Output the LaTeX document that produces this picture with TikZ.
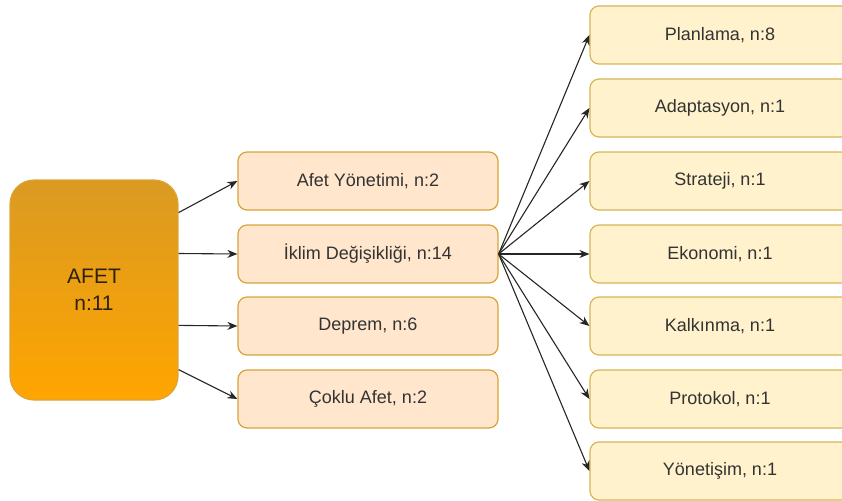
\documentclass[tikz,border=0pt]{standalone}
\usepackage{fontspec}
\setmainfont{Liberation Sans}
\usetikzlibrary{arrows.meta,calc}
\definecolor{midfill}{HTML}{FFE6CC}
\definecolor{midline}{HTML}{D6A43A}
\definecolor{rfill}{HTML}{FFF2CC}
\definecolor{rline}{HTML}{D6B656}
\definecolor{afettop}{HTML}{DA9A22}
\definecolor{afetbot}{HTML}{FFA500}
\definecolor{afetline}{HTML}{D9A63C}
\definecolor{txt}{HTML}{333333}
\tikzset{
  base/.style={rounded corners=9pt, line width=1.2pt, minimum width=260pt, minimum height=58pt, inner sep=0pt, text=txt, font=\fontsize{18}{21.6}\selectfont},
  midbox/.style={base, fill=midfill, draw=midline},
  rbox/.style={base, fill=rfill, draw=rline},
  afetbox/.style={rounded corners=24pt, line width=1.2pt, draw=afetline, top color=afettop, bottom color=afetbot, minimum width=168pt, minimum height=220pt, inner sep=0pt, text=black!75!brown, align=center, font=\fontsize{21}{25}\selectfont},
  conn/.style={line width=1.1pt, draw=black!85, -{Stealth[length=10pt,width=8pt]}}
}
\begin{document}
\begin{tikzpicture}[x=1pt,y=-1pt]
\useasboundingbox (0,0) rectangle (842,500);
\begin{scope}
\clip (0,0) rectangle (842,500);
\node[afetbox] (afet) at (94,290) {AFET\\[2pt]n:11};
\node[midbox] (m1) at (368,181) {Afet Yönetimi, n:2};
\node[midbox] (m2) at (368,254) {İklim Değişikliği, n:14};
\node[midbox] (m3) at (368,326) {Deprem, n:6};
\node[midbox] (m4) at (368,399) {Çoklu Afet, n:2};
\node[rbox] (r1) at (720,35) {Planlama, n:8};
\node[rbox] (r2) at (720,108) {Adaptasyon, n:1};
\node[rbox] (r3) at (720,181) {Strateji, n:1};
\node[rbox] (r4) at (720,254) {Ekonomi, n:1};
\node[rbox] (r5) at (720,326) {Kalkınma, n:1};
\node[rbox] (r6) at (720,399) {Protokol, n:1};
\node[rbox] (r7) at (720,471) {Yönetişim, n:1};
\coordinate (a1) at ($(afet.north east)!0.15!(afet.south east)$);
\coordinate (a2) at ($(afet.north east)!0.335!(afet.south east)$);
\coordinate (a3) at ($(afet.north east)!0.66!(afet.south east)$);
\coordinate (a4) at ($(afet.north east)!0.86!(afet.south east)$);
\draw[conn] (a1) -- (m1.west);
\draw[conn] (a2) -- (m2.west);
\draw[conn] (a3) -- (m3.west);
\draw[conn] (a4) -- (m4.west);
\foreach \r in {r1,r2,r3,r4,r5,r6,r7}{
  \draw[conn] (m2.east) -- (\r.west);
}
\end{scope}
\end{tikzpicture}
\end{document}
